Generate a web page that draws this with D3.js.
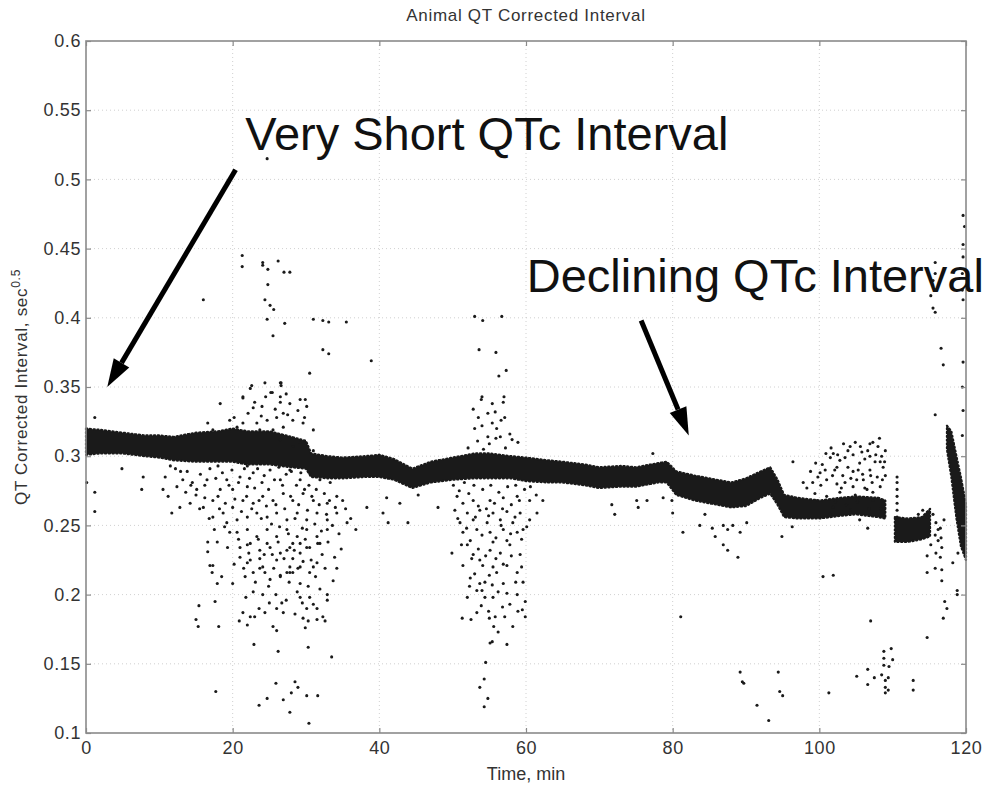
<!DOCTYPE html>
<html>
<head>
<meta charset="utf-8">
<script src="https://cdn.jsdelivr.net/npm/d3@7"></script>
<style>
  body { margin: 0; background: #fff; }
  svg { display: block; }
  text { font-family: "Liberation Sans", Arial, Helvetica, sans-serif; }
</style>
</head>
<body>
<svg id="chart" width="997" height="786"></svg>
<script>
// ---- axis ticks ----
const xTicks = [0, 20, 40, 60, 80, 100, 120];
const xTickLabels = ["0", "20", "40", "60", "80", "100", "120"];
const yTicks = [0.1, 0.15, 0.2, 0.25, 0.3, 0.35, 0.4, 0.45, 0.5, 0.55, 0.6];
const yTickLabels = ["0.1", "0.15", "0.2", "0.25", "0.3", "0.35", "0.4", "0.45", "0.5", "0.55", "0.6"];

// ---- dense QTc band: [time min, lower QTc, upper QTc] ----
const mainBand = [
  [0, 0.301, 0.320], [2, 0.302, 0.319], [5, 0.302, 0.317], [8, 0.300, 0.315],
  [10, 0.299, 0.315], [12, 0.297, 0.314], [15, 0.296, 0.317], [18, 0.296, 0.318],
  [20, 0.296, 0.320], [22, 0.294, 0.318], [25, 0.294, 0.318], [28, 0.292, 0.314],
  [30, 0.291, 0.311], [30.7, 0.285, 0.302], [33, 0.284, 0.300], [35, 0.284, 0.299],
  [38, 0.285, 0.300], [40, 0.285, 0.301], [42, 0.283, 0.298], [44.5, 0.277, 0.291],
  [47, 0.281, 0.296], [50, 0.283, 0.299], [53, 0.284, 0.302], [55, 0.284, 0.302],
  [58, 0.284, 0.300], [60, 0.282, 0.299], [63, 0.281, 0.297], [65, 0.281, 0.296],
  [68, 0.279, 0.294], [70, 0.277, 0.292], [73, 0.278, 0.293], [75, 0.278, 0.292],
  [78, 0.281, 0.295], [79.2, 0.281, 0.296], [80.5, 0.272, 0.289], [83, 0.268, 0.286],
  [85, 0.266, 0.284], [88, 0.263, 0.281], [90, 0.264, 0.284], [92, 0.270, 0.289],
  [93.3, 0.273, 0.292], [94.3, 0.265, 0.283], [95.2, 0.256, 0.272], [97, 0.255, 0.270],
  [100, 0.255, 0.268], [103, 0.257, 0.270], [105, 0.258, 0.271], [108, 0.256, 0.270],
  [109, 0.255, 0.268]
];
const lowBand = [
  [110.3, 0.238, 0.256], [112, 0.238, 0.255], [114, 0.240, 0.256], [115.1, 0.242, 0.262]
];
const steepBand = [
  [117.4, 0.305, 0.322], [118, 0.285, 0.318], [118.7, 0.255, 0.300],
  [119.3, 0.235, 0.285], [120, 0.225, 0.265]
];

// ---- scattered beats: [time min, QTc] ----
const earlyPoints = [
  [1.2, 0.328], [0.1, 0.281], [1.2, 0.274], [1.2, 0.260], [7.8, 0.285], [7.6, 0.276],
  [10.5, 0.276], [11.7, 0.259], [12.8, 0.263], [4.9, 0.291],
  [21.3, 0.445], [21.3, 0.437], [24.1, 0.440], [24.1, 0.438], [24.8, 0.435], [26.2, 0.441],
  [27.0, 0.433], [27.8, 0.433], [24.8, 0.424], [16.0, 0.413], [24.4, 0.413], [25.1, 0.409],
  [25.6, 0.406], [24.7, 0.399], [27.1, 0.396], [25.5, 0.387], [31.0, 0.399], [32.3, 0.398],
  [33.1, 0.397], [35.5, 0.397], [32.3, 0.377], [33.1, 0.374], [38.9, 0.369], [30.5, 0.360],
  [24.4, 0.353], [26.6, 0.353], [26.6, 0.351], [22.4, 0.349], [18.3, 0.338], [21.4, 0.342],
  [25.2, 0.346], [26.5, 0.343], [29.9, 0.341], [24.7, 0.515],
  [21.4, 0.343], [22.8, 0.335], [24.0, 0.336], [25.4, 0.346], [26.5, 0.339], [26.9, 0.331],
  [27.8, 0.338], [29.2, 0.341], [30.1, 0.336], [24.7, 0.326], [26.0, 0.328], [28.2, 0.326],
  [29.6, 0.324], [23.3, 0.324], [21.4, 0.324], [20.6, 0.321], [31.0, 0.319], [26.9, 0.321],
  [25.5, 0.319], [22.6, 0.351], [26.5, 0.353], [16.6, 0.324], [17.3, 0.319], [19.6, 0.326],
  [23.7, 0.319], [26.5, 0.312], [28.2, 0.307], [29.2, 0.310], [31.0, 0.304],
  [20.2, 0.328], [22.1, 0.331], [23.9, 0.329], [25.8, 0.334], [27.5, 0.330], [28.9, 0.333],
  [29.8, 0.328], [24.5, 0.343], [27.3, 0.345], [23.0, 0.339],
  [10.8, 0.285], [12.4, 0.278], [11.2, 0.271], [13.2, 0.283], [15.1, 0.276], [16.5, 0.283],
  [14.2, 0.266], [16.0, 0.263], [17.3, 0.268], [18.3, 0.276], [19.2, 0.283], [20.0, 0.276],
  [21.0, 0.285], [22.0, 0.278], [22.8, 0.288], [24.0, 0.281], [25.1, 0.290], [26.5, 0.283],
  [27.8, 0.290], [29.2, 0.283], [30.5, 0.288], [31.9, 0.283], [33.3, 0.281], [34.2, 0.271],
  [32.9, 0.266], [31.0, 0.268], [29.6, 0.273], [28.2, 0.268], [26.9, 0.273], [25.5, 0.268],
  [24.1, 0.271], [22.8, 0.266], [21.4, 0.268], [20.0, 0.263], [18.7, 0.259], [17.3, 0.256],
  [19.2, 0.252], [20.6, 0.254], [22.0, 0.256], [23.3, 0.259], [24.7, 0.256], [26.0, 0.259],
  [27.4, 0.254], [28.8, 0.259], [30.1, 0.254], [31.5, 0.259], [32.9, 0.254], [34.2, 0.259],
  [35.6, 0.252], [20.6, 0.245], [22.0, 0.247], [23.3, 0.242], [24.7, 0.247], [26.0, 0.242],
  [27.4, 0.247], [28.8, 0.242], [30.1, 0.247], [31.5, 0.242], [32.9, 0.247], [21.0, 0.234],
  [22.4, 0.237], [23.7, 0.232], [25.1, 0.234], [26.5, 0.230], [27.8, 0.234], [29.2, 0.230],
  [30.5, 0.234], [31.9, 0.237], [22.4, 0.225], [24.1, 0.220], [26.0, 0.225], [27.8, 0.220],
  [29.6, 0.224], [31.0, 0.220], [26.5, 0.213], [28.2, 0.216],
  [13.8, 0.289], [14.5, 0.281], [15.6, 0.287], [16.2, 0.279], [16.9, 0.291], [17.7, 0.284],
  [18.0, 0.271], [18.6, 0.288], [19.0, 0.266], [19.5, 0.279], [19.9, 0.290], [20.3, 0.269],
  [20.8, 0.281], [21.2, 0.260], [21.6, 0.291], [21.9, 0.271], [22.3, 0.284], [22.6, 0.262],
  [23.0, 0.277], [23.4, 0.291], [23.6, 0.268], [23.9, 0.255], [24.3, 0.286], [24.6, 0.264],
  [24.9, 0.276], [25.3, 0.251], [25.7, 0.283], [25.9, 0.265], [26.3, 0.292], [26.4, 0.249],
  [26.8, 0.279], [27.1, 0.262], [27.3, 0.287], [27.6, 0.244], [27.9, 0.271], [28.3, 0.293],
  [28.5, 0.255], [28.7, 0.279], [29.0, 0.265], [29.3, 0.288], [29.5, 0.248], [29.8, 0.276],
  [30.2, 0.261], [30.4, 0.279], [30.8, 0.271], [31.2, 0.251], [31.4, 0.276], [31.8, 0.265],
  [32.1, 0.246], [32.5, 0.273], [32.8, 0.258], [33.2, 0.268], [33.6, 0.250], [34.0, 0.263],
  [34.5, 0.244], [35.0, 0.268], [35.4, 0.262], [36.1, 0.255], [36.8, 0.247], [34.8, 0.233],
  [33.9, 0.227], [33.0, 0.238], [32.2, 0.229], [31.3, 0.213], [30.7, 0.225], [29.9, 0.240],
  [28.9, 0.219], [28.4, 0.232], [27.7, 0.209], [27.0, 0.226], [26.2, 0.238], [25.6, 0.219],
  [24.9, 0.206], [24.3, 0.229], [23.5, 0.240], [23.1, 0.209], [22.2, 0.230], [21.5, 0.219],
  [20.8, 0.240], [20.2, 0.222], [19.6, 0.245], [19.3, 0.234], [18.9, 0.249], [18.2, 0.262],
  [17.5, 0.247], [16.8, 0.255], [16.2, 0.270], [15.5, 0.262], [15.0, 0.272], [14.3, 0.279],
  [13.6, 0.274], [12.9, 0.289], [12.2, 0.291], [11.5, 0.293], [26.0, 0.190], [27.3, 0.196],
  [28.5, 0.186], [29.9, 0.176], [31.0, 0.193], [25.0, 0.194], [23.6, 0.190], [22.0, 0.178],
  [31.9, 0.204], [33.7, 0.210], [24.0, 0.296], [26.0, 0.296], [28.0, 0.289], [22.0, 0.293],
  [18.0, 0.293],
  [16.6, 0.238], [17.9, 0.238], [16.6, 0.231], [16.9, 0.221], [17.3, 0.221], [17.2, 0.216],
  [17.9, 0.208], [18.5, 0.213], [20.0, 0.208], [15.4, 0.192], [17.6, 0.195], [15.0, 0.182],
  [15.3, 0.177], [18.1, 0.177], [20.9, 0.181], [21.4, 0.187], [22.4, 0.184], [23.0, 0.184],
  [24.4, 0.187], [25.5, 0.177], [26.0, 0.174], [22.9, 0.164], [26.2, 0.159], [30.3, 0.162],
  [33.5, 0.155], [21.8, 0.198], [22.8, 0.202], [24.1, 0.200], [25.9, 0.200], [26.7, 0.194],
  [26.9, 0.187], [29.2, 0.198], [29.5, 0.194], [30.1, 0.190], [30.5, 0.198], [31.5, 0.190],
  [32.9, 0.196], [32.9, 0.200], [29.6, 0.183], [30.3, 0.181], [31.5, 0.182], [32.3, 0.184],
  [32.6, 0.181], [34.2, 0.219], [32.6, 0.219], [31.5, 0.223], [31.6, 0.237], [29.2, 0.237],
  [27.4, 0.216], [27.8, 0.216], [26.5, 0.214], [25.1, 0.211], [24.4, 0.216], [23.7, 0.219],
  [22.8, 0.216], [21.7, 0.213], [21.0, 0.227], [22.0, 0.223], [23.7, 0.226], [25.4, 0.229],
  [28.2, 0.226], [29.2, 0.220], [30.5, 0.216], [29.2, 0.208], [30.3, 0.206], [28.8, 0.202],
  [22.0, 0.236], [24.7, 0.237], [28.2, 0.237], [30.1, 0.234], [27.4, 0.232],
  [17.7, 0.130], [25.9, 0.136], [28.5, 0.137], [28.9, 0.133], [28.0, 0.129], [26.9, 0.124],
  [30.1, 0.127], [31.6, 0.127], [24.7, 0.125], [23.6, 0.120], [27.8, 0.115], [30.4, 0.107],
  [38.3, 0.263]
];

const midPoints = [
  [41.0, 0.270], [41.2, 0.252], [43.9, 0.252], [48.0, 0.263], [40.5, 0.259], [42.8, 0.266],
  [45.3, 0.272],
  [53.0, 0.401], [54.1, 0.398], [56.7, 0.401], [53.6, 0.377], [55.9, 0.375], [57.3, 0.362],
  [56.3, 0.358], [54.0, 0.343], [53.9, 0.341], [57.0, 0.343], [56.9, 0.339], [55.4, 0.338],
  [52.8, 0.334], [54.8, 0.331], [55.8, 0.332], [57.1, 0.328], [55.4, 0.324], [53.0, 0.320],
  [56.0, 0.320], [54.8, 0.314], [56.5, 0.314], [58.1, 0.312], [58.9, 0.310],
  [52.1, 0.306], [53.4, 0.311], [54.2, 0.305], [55.0, 0.309], [55.9, 0.313], [57.2, 0.306],
  [57.8, 0.316], [54.0, 0.322], [56.6, 0.326], [53.5, 0.328],
  [50.6, 0.271], [51.4, 0.266], [52.8, 0.268], [55.1, 0.268], [56.9, 0.270], [58.8, 0.271],
  [60.5, 0.268], [62.3, 0.268], [50.3, 0.261], [52.0, 0.259], [53.7, 0.261], [55.5, 0.259],
  [57.4, 0.260], [59.2, 0.259], [61.5, 0.259], [51.0, 0.252], [52.8, 0.254], [54.7, 0.252],
  [56.5, 0.254], [58.2, 0.252], [60.5, 0.254], [51.4, 0.245], [53.3, 0.247], [55.1, 0.245],
  [56.9, 0.247], [58.8, 0.245], [52.4, 0.239], [55.5, 0.238], [57.4, 0.239], [59.6, 0.247],
  [50.1, 0.279], [50.9, 0.275], [51.6, 0.281], [52.2, 0.273], [52.9, 0.279], [53.5, 0.264],
  [54.1, 0.276], [54.6, 0.262], [55.2, 0.279], [55.7, 0.266], [56.3, 0.274], [56.8, 0.262],
  [57.5, 0.278], [58.0, 0.265], [58.6, 0.279], [59.1, 0.268], [59.8, 0.276], [60.6, 0.278],
  [61.4, 0.272], [50.7, 0.255], [51.9, 0.248], [53.1, 0.256], [54.0, 0.243], [54.9, 0.257],
  [55.9, 0.241], [56.6, 0.250], [57.9, 0.244], [58.5, 0.256], [59.4, 0.240], [60.1, 0.249],
  [51.2, 0.236], [52.6, 0.226], [53.5, 0.233], [54.5, 0.228], [55.0, 0.214], [55.9, 0.226],
  [56.9, 0.222], [58.0, 0.228], [58.6, 0.209], [59.4, 0.220], [53.0, 0.215], [54.0, 0.203],
  [56.2, 0.202], [57.8, 0.193], [56.8, 0.191], [53.9, 0.192], [52.3, 0.206], [58.9, 0.188],
  [55.6, 0.177], [54.9, 0.188],
  [49.9, 0.230], [52.0, 0.236], [52.8, 0.229], [53.7, 0.225], [55.1, 0.232], [56.5, 0.230],
  [57.8, 0.236], [59.2, 0.229], [51.4, 0.221], [54.1, 0.221], [55.5, 0.220], [57.4, 0.221],
  [58.8, 0.216], [56.0, 0.216], [52.4, 0.212], [53.7, 0.208], [54.4, 0.209], [55.4, 0.207],
  [56.9, 0.208], [59.6, 0.209], [53.3, 0.203], [54.4, 0.198], [55.5, 0.198], [57.4, 0.201],
  [58.8, 0.200], [59.9, 0.195], [52.0, 0.198], [53.3, 0.187], [51.3, 0.183], [52.5, 0.182],
  [55.0, 0.183], [55.8, 0.184], [57.1, 0.184], [58.2, 0.177], [59.5, 0.189], [59.9, 0.184],
  [56.2, 0.173], [55.4, 0.166], [57.4, 0.164], [55.1, 0.165], [54.5, 0.151], [54.3, 0.139],
  [53.7, 0.133], [54.8, 0.125], [54.3, 0.119],
  [72.1, 0.258], [71.7, 0.265], [75.1, 0.268], [75.3, 0.263], [76.5, 0.268], [78.7, 0.270],
  [79.9, 0.268], [77.3, 0.302]
];

const latePoints = [
  [80.0, 0.259], [81.4, 0.245], [83.7, 0.250], [85.4, 0.248], [85.8, 0.242], [86.9, 0.250],
  [87.5, 0.247], [88.2, 0.250], [89.2, 0.245], [90.1, 0.252], [86.9, 0.236], [87.5, 0.232],
  [88.9, 0.227], [94.9, 0.242], [96.3, 0.249], [96.4, 0.296], [81.1, 0.184], [84.4, 0.258],
  [89.2, 0.144], [89.5, 0.137], [89.7, 0.136], [94.4, 0.144], [94.6, 0.130], [95.0, 0.127],
  [91.5, 0.120], [93.1, 0.109], [100.5, 0.213], [101.9, 0.214], [101.3, 0.129], [105.1, 0.141],
  [106.6, 0.146], [106.6, 0.135], [107.5, 0.140], [108.5, 0.142], [108.8, 0.159], [108.8, 0.154],
  [108.8, 0.149], [109.0, 0.138], [109.0, 0.133], [109.0, 0.129], [109.8, 0.161], [110.0, 0.153],
  [109.5, 0.148], [109.4, 0.140], [109.4, 0.131], [112.8, 0.138], [112.8, 0.131], [107.0, 0.181],
  [114.7, 0.169], [116.9, 0.183], [117.4, 0.190], [117.1, 0.195], [118.8, 0.203], [118.8, 0.200],
  [118.2, 0.223], [116.7, 0.218], [115.8, 0.219], [114.7, 0.216], [114.7, 0.228], [116.7, 0.210],
  [118.9, 0.230],
  [119.8, 0.466], [119.6, 0.453], [119.6, 0.444], [119.5, 0.432], [119.5, 0.420], [119.6, 0.413],
  [119.6, 0.474], [115.8, 0.440], [115.8, 0.432], [115.5, 0.427], [115.2, 0.416], [115.5, 0.407],
  [115.8, 0.404], [116.6, 0.378], [116.9, 0.366], [119.5, 0.350], [115.8, 0.330], [119.6, 0.368],
  [119.6, 0.333], [119.5, 0.315],
  [100.4, 0.294], [101.5, 0.299], [101.9, 0.302], [102.8, 0.297], [104.2, 0.307], [104.6, 0.301],
  [105.5, 0.295], [106.6, 0.304], [107.3, 0.310], [108.0, 0.307], [108.5, 0.300], [108.7, 0.292],
  [107.9, 0.285], [106.9, 0.290], [106.0, 0.283], [104.6, 0.289], [103.2, 0.286], [102.1, 0.290],
  [101.0, 0.283], [100.1, 0.288], [99.1, 0.281], [98.3, 0.277], [99.4, 0.273], [101.0, 0.271],
  [102.8, 0.274], [104.6, 0.278], [106.5, 0.276], [108.3, 0.278], [108.7, 0.268], [107.3, 0.268],
  [101.9, 0.263], [104.2, 0.261], [101.5, 0.258], [105.5, 0.254], [106.6, 0.248], [97.8, 0.281],
  [102.4, 0.292], [103.9, 0.292], [105.3, 0.290], [107.6, 0.296], [103.5, 0.281], [105.1, 0.283],
  [107.2, 0.281], [100.8, 0.290], [103.5, 0.299], [105.8, 0.303], [106.9, 0.300], [108.3, 0.296],
  [99.8, 0.285], [102.4, 0.280], [106.2, 0.277], [104.9, 0.272], [107.3, 0.274], [109.0, 0.304],
  [109.0, 0.286],
  [98.8, 0.289], [99.5, 0.295], [100.9, 0.302], [101.6, 0.306], [102.5, 0.301], [103.3, 0.309],
  [103.9, 0.304], [104.9, 0.310], [105.6, 0.307], [106.2, 0.298], [106.9, 0.309], [107.7, 0.301],
  [108.2, 0.313], [108.9, 0.296], [100.2, 0.279], [101.8, 0.286], [103.0, 0.277], [104.3, 0.284],
  [105.9, 0.287], [107.0, 0.286], [108.6, 0.283], [99.7, 0.268], [102.2, 0.267], [103.7, 0.265],
  [105.2, 0.267], [106.8, 0.262], [108.4, 0.262],
  [110.6, 0.285], [110.6, 0.281], [110.6, 0.276], [110.6, 0.271], [110.6, 0.266], [110.6, 0.261],
  [110.6, 0.256], [110.6, 0.252],
  [115.5, 0.258], [115.9, 0.252], [116.5, 0.248], [115.8, 0.243], [116.2, 0.239], [116.7, 0.234],
  [115.9, 0.230], [116.5, 0.227], [117.0, 0.254], [115.2, 0.236], [116.2, 0.247], [116.6, 0.241],
  [114.1, 0.261], [113.5, 0.258], [114.7, 0.256]
];

// ---- callouts: text anchor and arrow tail/tip in data units ----
const callouts = [
  { text: "Very Short QTc Interval", at: [21.7, 0.521], tail: [20.4, 0.507], tip: [2.9, 0.350] },
  { text: "Declining QTc Interval", at: [60.1, 0.419], tail: [75.7, 0.398], tip: [82.2, 0.315] }
];

const svg = d3.select("#chart");
const x = d3.scaleLinear().domain([0, 120]).range([86, 966]);
const y = d3.scaleLinear().domain([0.1, 0.6]).range([733, 41]);
const [x0, x1] = x.range();
const [y0, y1] = y.range();
const ink = "#1a1a1a";

// grid
const grid = svg.append("g").attr("stroke", "#c4c4c4").attr("stroke-width", 0.8)
  .attr("stroke-dasharray", "1,3");
grid.selectAll("line.vx").data(xTicks.slice(1, -1)).join("line")
  .attr("x1", d => x(d)).attr("x2", d => x(d)).attr("y1", y1).attr("y2", y0);
grid.selectAll("line.hy").data(yTicks.slice(1, -1)).join("line")
  .attr("x1", x0).attr("x2", x1).attr("y1", d => y(d)).attr("y2", d => y(d));

// bands: solid core with a soft dotted rim
const area = d3.area().x(d => x(d[0])).y0(d => y(d[1])).y1(d => y(d[2])).curve(d3.curveLinear);
[mainBand, lowBand, steepBand].forEach(b => {
  svg.append("path").attr("d", area(b)).attr("fill", ink);
  svg.append("path").attr("d", area(b)).attr("fill", "none")
    .attr("stroke", ink).attr("stroke-width", 2.2).attr("stroke-dasharray", "1.2,2.6")
    .attr("stroke-linecap", "round").attr("stroke-linejoin", "round");
});

// scattered beats
const allPoints = earlyPoints.concat(midPoints, latePoints);
svg.append("g").selectAll("circle").data(allPoints).join("circle")
  .attr("cx", d => x(d[0])).attr("cy", d => y(d[1])).attr("r", 1.55).attr("fill", ink);

// frame
svg.append("rect").attr("x", x0).attr("y", y1).attr("width", x1 - x0).attr("height", y0 - y1)
  .attr("fill", "none").attr("stroke", "#8a8a8a").attr("stroke-width", 1.6);

// axes
const fmtX = d => xTickLabels[xTicks.indexOf(d)];
const fmtY = d => yTickLabels[yTicks.indexOf(d)];
const styleAxis = g => {
  g.select(".domain").remove();
  g.selectAll(".tick line").attr("stroke", "#8a8a8a").attr("stroke-width", 1.2);
  g.selectAll(".tick text").attr("fill", "#333").attr("font-size", 18)
    .attr("letter-spacing", 0.6)
    .attr("font-family", "'Liberation Sans', Arial, sans-serif");
};
svg.append("g").attr("transform", `translate(0,${y0})`)
  .call(d3.axisBottom(x).tickValues(xTicks).tickFormat(fmtX).tickSizeInner(-5).tickSizeOuter(0).tickPadding(8))
  .call(styleAxis);
svg.append("g").attr("transform", `translate(0,${y1})`)
  .call(d3.axisTop(x).tickValues(xTicks).tickFormat("").tickSizeInner(-5).tickSizeOuter(0))
  .call(styleAxis);
svg.append("g").attr("transform", `translate(${x0},0)`)
  .call(d3.axisLeft(y).tickValues(yTicks).tickFormat(fmtY).tickSizeInner(-5).tickSizeOuter(0).tickPadding(5))
  .call(styleAxis);
svg.append("g").attr("transform", `translate(${x1},0)`)
  .call(d3.axisRight(y).tickValues(yTicks).tickFormat("").tickSizeInner(-5).tickSizeOuter(0))
  .call(styleAxis);

// titles
svg.append("text").attr("x", (x0 + x1) / 2).attr("y", 21).attr("text-anchor", "middle")
  .attr("font-size", 17).attr("letter-spacing", 0.7).attr("fill", "#333")
  .text("Animal QT Corrected Interval");
svg.append("text").attr("x", (x0 + x1) / 2).attr("y", 780).attr("text-anchor", "middle")
  .attr("font-size", 18).attr("fill", "#333").text("Time, min");
const yl = svg.append("text").attr("transform", `translate(27,${(y0 + y1) / 2}) rotate(-90)`)
  .attr("text-anchor", "middle").attr("font-size", 17).attr("letter-spacing", 0.7).attr("fill", "#333");
yl.append("tspan").text("QT Corrected Interval, sec");
yl.append("tspan").attr("dy", -7).attr("font-size", 12).text("0.5");

// callouts
const ann = svg.append("g");
callouts.forEach(c => {
  const tx = x(c.tail[0]), ty = y(c.tail[1]);
  const px = x(c.tip[0]), py = y(c.tip[1]);
  const ang = Math.atan2(py - ty, px - tx);
  const headLen = 28, headW = 9;
  const bx = px - headLen * Math.cos(ang), by = py - headLen * Math.sin(ang);
  ann.append("line").attr("x1", tx).attr("y1", ty).attr("x2", bx).attr("y2", by)
    .attr("stroke", "#000").attr("stroke-width", 5);
  const nx = -Math.sin(ang), ny = Math.cos(ang);
  ann.append("polygon")
    .attr("points", [[px, py], [bx + nx * headW, by + ny * headW], [bx - nx * headW, by - ny * headW]].map(p => p.join(",")).join(" "))
    .attr("fill", "#000");
  ann.append("text").attr("x", x(c.at[0])).attr("y", y(c.at[1]))
    .attr("font-size", 47).attr("fill", "#111").text(c.text);
});
</script>
</body>
</html>
